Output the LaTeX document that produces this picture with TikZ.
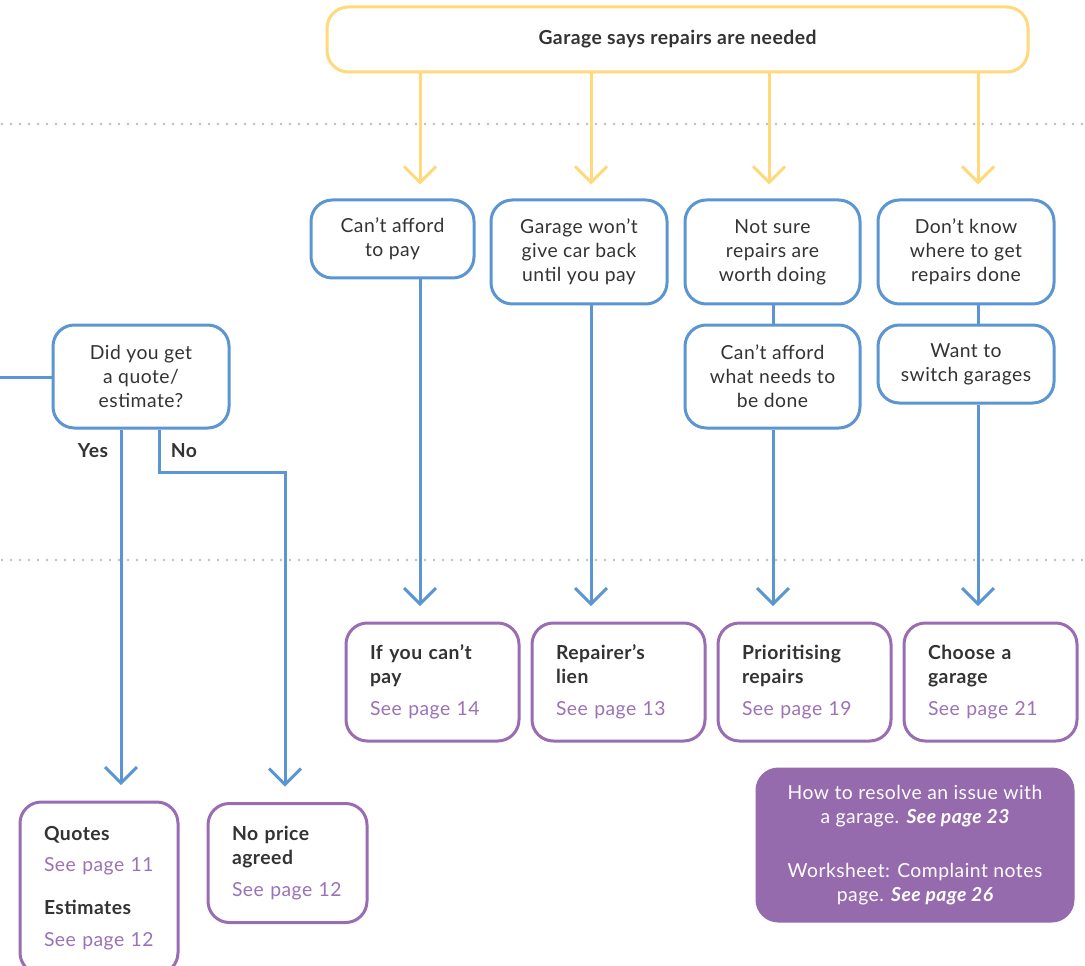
\documentclass[tikz,border=0pt]{standalone}
\usepackage{fontspec}
\setmainfont{Lato}[LetterSpace=2.5]
\usetikzlibrary{arrows.meta}
\definecolor{yel}{HTML}{FFD97A}
\definecolor{blu}{HTML}{5B96D3}
\definecolor{pur}{HTML}{9A6DB3}
\definecolor{purfill}{HTML}{966BAE}
\definecolor{txt}{HTML}{333333}
\definecolor{seep}{HTML}{9B72B8}
\definecolor{dotc}{HTML}{BDBDBD}
\newcommand\myb[1]{\mbox{\bfseries #1}}
\newcommand\mysee[1]{\mbox{\textcolor{seep}{#1}}}
\begin{document}
\begin{tikzpicture}[x=0.75pt,y=-0.75pt,
  base/.style={rounded corners=16pt, line width=2.25pt, inner sep=0pt, font=\fontsize{14.5}{18}\selectfont, text=txt},
  sz/.style 2 args={minimum width=#1*0.75pt, minimum height=#2*0.75pt},
  ybox/.style={base, draw=yel, align=center},
  bbox/.style={base, draw=blu, align=center},
  pbox/.style={base, draw=pur, align=left, text width=#1*0.75pt},
  fbox/.style={base, fill=purfill, draw=purfill, text=white, align=center},
  tip/.style={-{Straight Barb[length=12pt,width=24pt]}},
  yarr/.style={draw=yel, line width=2.25pt, tip, shorten >=10.5pt},
  barr/.style={draw=blu, line width=2.25pt, tip, shorten >=11.5pt},
  bline/.style={draw=blu, line width=2.25pt},
  dotline/.style={draw=dotc, line width=2pt, line cap=round, dash pattern=on 0pt off 6.75pt},
  lab/.style={font=\fontsize{14.5}{18}\selectfont\bfseries, text=txt, inner sep=0pt},
]
\clip (0,0) rectangle (1085,966);
\fill[white] (0,0) rectangle (1085,966);

% dotted separators
\coordinate (d1l) at (2,124); \coordinate (d1r) at (1085,124);
\coordinate (d2l) at (2,560); \coordinate (d2r) at (1085,560);
\draw[dotline] (d1l) -- (d1r);
\draw[dotline] (d2l) -- (d2r);

% top
\node[ybox, sz={701}{65}] (top) at (677.5,39.5) {\bfseries Garage says repairs are needed};

% row 1
\node[bbox, sz={163}{78}]  (A) at (392.5,239) {Can’t afford\\to pay};
\node[bbox, sz={176}{104}] (B) at (579,252) {Garage won’t\\give car back\\until you pay};
\node[bbox, sz={175}{104}] (C) at (772.5,252) {Not sure\\repairs are\\worth doing};
\node[bbox, sz={176}{104}] (D) at (966,252) {Don’t know\\where to get\\repairs done};

% row 2
\node[bbox, sz={175}{103}] (C2) at (772.5,376.5) {Can’t afford\\what needs to\\be done};
\node[bbox, sz={176}{78}]  (D2) at (966,364) {Want to\\switch garages};
\node[bbox, sz={176}{103}] (Q)  at (141,376.5) {Did you get\\a quote/\\estimate?};

% result boxes
\node[pbox=125, sz={173}{118}] (P1) at (432.5,682) {\myb{If you can’t}\\\myb{pay}\\[6pt]\mysee{See page 14}};
\node[pbox=125, sz={173}{118}] (P2) at (618.5,682) {\myb{Repairer’s}\\\myb{lien}\\[6pt]\mysee{See page 13}};
\node[pbox=125, sz={173}{118}] (P3) at (804.5,682) {\myb{Prioritising}\\\myb{repairs}\\[6pt]\mysee{See page 19}};
\node[pbox=125, sz={173}{118}] (P4) at (990.5,682) {\myb{Choose a}\\\myb{garage}\\[6pt]\mysee{See page 21}};

\node[pbox=110, sz={158}{172}] (QE) at (99,888) {\myb{Quotes}\\[5.25pt]\mysee{See page 11}\\[14.25pt]\myb{Estimates}\\[6pt]\mysee{See page 12}};
\node[pbox=111, sz={159}{119}] (NP) at (287.5,863) {\myb{No price}\\\myb{agreed}\\[6pt]\mysee{See page 12}};

\node[fbox, sz={316}{152}] (F) at (915,845) {How to resolve an issue with\\a garage. {\bfseries\itshape See page 23}\\[22.5pt]Worksheet: Complaint notes\\page. {\bfseries\itshape See page 26}};

% yellow arrows
\foreach \x/\t in {420/A, 591/B, 769/C, 978/D}{
  \coordinate (yx) at (\x,0);
  \draw[yarr] (top.south -| yx) -- (\t.north -| yx);
}

% blue connectors
\coordinate (xa) at (420,0);
\coordinate (xb) at (591,0);
\coordinate (xc) at (773,0);
\coordinate (xd) at (978,0);
\draw[barr] (A.south -| xa) -- (P1.north -| xa);
\draw[barr] (B.south -| xb) -- (P2.north -| xb);
\draw[bline] (C.south -| xc) -- (C2.north -| xc);
\draw[barr] (C2.south -| xc) -- (P3.north -| xc);
\draw[bline] (D.south -| xd) -- (D2.north -| xd);
\draw[barr] (D2.south -| xd) -- (P4.north -| xd);

% left entry line
\coordinate (lin) at (0,377);
\draw[bline] (lin) -- (Q.west |- lin);

% yes / no
\coordinate (xy) at (121,0);
\coordinate (xn) at (159,0);
\coordinate (nb) at (285,472);
\draw[barr] (Q.south -| xy) -- (QE.north -| xy);
\draw[barr] (Q.south -| xn) -- (xn |- nb) -- (nb) -- (NP.north -| nb);
\node[lab] (yes) at (93,451) {Yes};
\node[lab] (no) at (184,451) {No};
\end{tikzpicture}
\end{document}
